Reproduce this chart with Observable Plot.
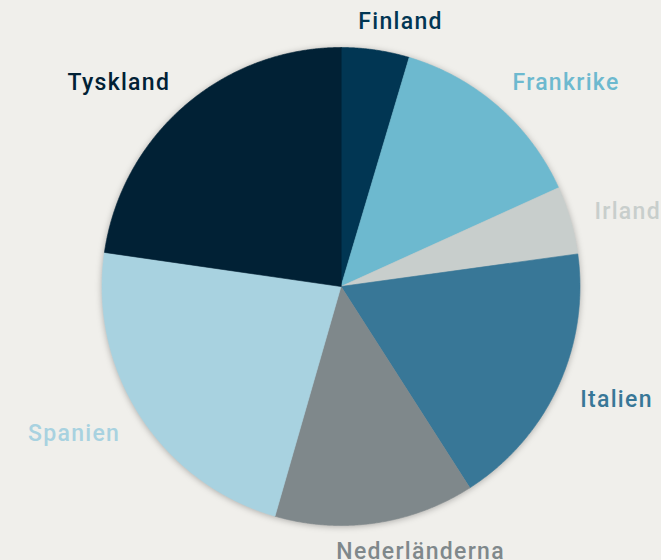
<!DOCTYPE html>
<html><head><meta charset="utf-8">
<script src="https://cdn.jsdelivr.net/npm/d3@7"></script>
<script src="https://cdn.jsdelivr.net/npm/@observablehq/plot@0.6"></script>
<style>
html,body{margin:0;padding:0;background:#f0efeb;}
#chart svg{display:block;}
#chart g[aria-label="line"]{filter:drop-shadow(0px 1px 3px rgba(0,0,0,0.28));}
#chart g[aria-label="text"] text{letter-spacing:1.3px;}
</style></head><body><div id="chart"></div>
<script>
const countries = ["Finland","Frankrike","Irland","Italien","Nederländerna","Spanien","Tyskland"];
const shares = [4.6, 13.6, 4.6, 18.1, 13.5, 22.8, 22.7];
const colors = ["#013653","#6db9cf","#c8cecc","#387797","#7f888b","#a8d2e0","#012135"];

const W = 661, H = 560, R = 239, cx = 340.5, cy = 286, labelR = 1.13;
const nudge = {Finland: 21, "Nederländerna": 41};

const arcs = d3.pie().sort(null).value(d => d.v)(countries.map((c, i) => ({c, v: shares[i]})));
const slices = arcs.flatMap(a => {
  const n = Math.max(2, Math.ceil((a.endAngle - a.startAngle) / 0.005));
  const pts = [{c: a.data.c, x: 0, y: 0}];
  for (let k = 0; k <= n; k++) {
    const t = a.startAngle + (a.endAngle - a.startAngle) * k / n;
    pts.push({c: a.data.c, x: Math.sin(t), y: -Math.cos(t)});
  }
  return pts;
});
const labels = arcs.map(a => {
  const m = (a.startAngle + a.endAngle) / 2, s = Math.sin(m);
  const r = Math.abs(s) < 0.3 ? 1.12 : labelR;
  return {c: a.data.c, x: r * s + (nudge[a.data.c] || 0) / R, y: -r * Math.cos(m),
          anchor: Math.abs(s) < 0.3 ? "middle" : (s > 0 ? "start" : "end")};
});
const gap = {start: -6, end: 6, middle: 0};
const textOpts = anchor => ({x: "x", y: "y", text: "c", fill: "c", textAnchor: anchor, lineAnchor: "middle",
  dx: gap[anchor], fontSize: 23, fontWeight: 500});

const chart = Plot.plot({
  width: W, height: H, margin: 0,
  x: {domain: [-cx / R, (W - cx) / R], range: [0, W], axis: null},
  y: {domain: [-cy / R, (H - cy) / R], range: [0, H], axis: null},
  color: {domain: countries, range: colors},
  style: {background: "transparent", fontFamily: "Roboto, sans-serif", overflow: "visible"},
  marks: [
    Plot.line(slices, {x: "x", y: "y", z: "c", fill: "c", stroke: "c", strokeWidth: 0.6, curve: "linear-closed"}),
    ...["start", "end", "middle"].map(an => Plot.text(labels.filter(d => d.anchor === an), textOpts(an)))
  ]
});
document.getElementById("chart").appendChild(chart);
</script></body></html>
